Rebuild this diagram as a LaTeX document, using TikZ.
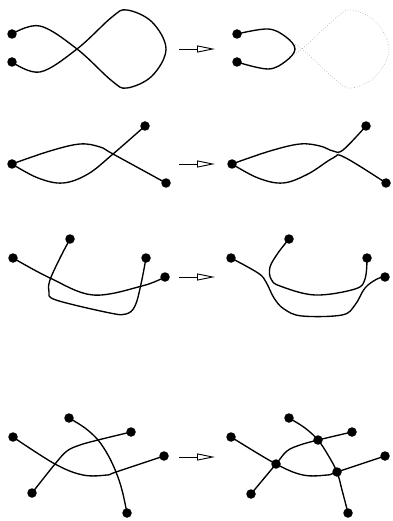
\documentclass[tikz,border=0pt]{standalone}
\usetikzlibrary{arrows.meta}

\tikzset{
	blob/.style={circle, fill, inner sep=0pt, minimum size=9.5pt},
	wire/.style={line width=1.35pt, line join=round, line cap=round},
	ghost/.style={gray!70, line width=0.6pt, dash pattern={on 0.6pt off 2pt}},
	flow/.style={line width=0.9pt, -{Triangle[open, length=18pt, width=7pt]}}
}

\begin{document}
\begin{tikzpicture}[x=1pt, y=-1pt]
			\useasboundingbox (0,0) rectangle (392,521);
			% figure eight
			\node[blob](A1) at (12,34){};
			\node[blob](A2) at (12,62){};
			\draw[wire] plot[smooth, tension=0.6] coordinates {(A1.center) (40,26) (77,49) (112,81) (127,88) (152,76) (166,49) (152,22) (127,10) (112,17) (77,49) (40,72) (A2.center)};
			\coordinate (s1) at (179,49);
			\coordinate (e1) at (215,49);
			\draw[flow] (s1) -- (e1);
			\node[blob](B1) at (237,34){};
			\node[blob](B2) at (237,62){};
			\draw[ghost] plot[smooth, tension=0.6] coordinates {(288,41) (302,49) (337,81) (352,88) (376,76) (389,49) (376,22) (352,10) (337,17) (302,49) (288,57)};
			\draw[wire] plot[smooth, tension=0.6] coordinates {(B1.center) (268,29) (286,37) (295,49) (286,61) (268,69) (B2.center)};
			% one crossing
			\node[blob](C1) at (12,164){};
			\node[blob](C2) at (145,126){};
			\node[blob](C3) at (166,183){};
			\draw[wire] plot[smooth, tension=0.6] coordinates {(C1.center) (50,151) (80,144) (100,147) (113,154) (C3.center)};
			\draw[wire] plot[smooth, tension=0.6] coordinates {(C1.center) (38,178) (63,183) (88,174) (113,154) (C2.center)};
			\coordinate (s2) at (179,164);
			\coordinate (e2) at (215,164);
			\draw[flow] (s2) -- (e2);
			\node[blob](D1) at (232,164){};
			\node[blob](D2) at (366,126){};
			\node[blob](D3) at (386,183){};
			\draw[ghost] (332,150) -- (344,158) (332,158) -- (344,150);
			\draw[wire] plot[smooth, tension=0.6] coordinates {(D1.center) (270,151) (300,144) (320,146) (333,151) (343,150) (D2.center)};
			\draw[wire] plot[smooth, tension=0.6] coordinates {(D1.center) (258,178) (283,183) (308,174) (333,158) (344,157) (D3.center)};
			% two crossings
			\node[blob](E1) at (13,258){};
			\node[blob](E2) at (70,239){};
			\node[blob](E3) at (146,258){};
			\node[blob](E4) at (165,277){};
			\draw[wire] plot[smooth, tension=0.6] coordinates {(E1.center) (50,278) (93,295) (142,286) (E4.center)};
			\draw[wire] plot[smooth, tension=0.6] coordinates {(E2.center) (60,258) (50,280) (49,292) (56,300) (110,313) (126,314) (135,306) (141,284) (E3.center)};
			\coordinate (s3) at (179,277);
			\coordinate (e3) at (215,277);
			\draw[flow] (s3) -- (e3);
			\node[blob](F1) at (231,258){};
			\node[blob](F2) at (289,239){};
			\node[blob](F3) at (367,258){};
			\node[blob](F4) at (385,277){};
			\draw[wire] plot[smooth, tension=0.6] coordinates {(F2.center) (278,253) (270,267) (271,279) (280,286) (315,295) (355,289) (365,279) (F3.center)};
			\draw[wire] plot[smooth, tension=0.6] coordinates {(F1.center) (258,273) (266,282) (274,298) (284,309) (302,316) (342,315) (355,305) (365,288) (377,279) (F4.center)};
			% three crossings
			\node[blob](G1) at (13,437){};
			\node[blob](G2) at (69,418){};
			\node[blob](G3) at (131,432){};
			\node[blob](G4) at (164,456){};
			\node[blob](G5) at (32,493){};
			\node[blob](G6) at (127,513){};
			\coordinate (x1) at (55,464);
			\coordinate (x2) at (98,440);
			\coordinate (x3) at (116,472);
			\draw[wire] plot[smooth, tension=0.6] coordinates {(G1.center) (x1) (83,475) (107,475) (x3) (G4.center)};
			\draw[wire] plot[smooth, tension=0.6] coordinates {(G5.center) (x1) (67,451) (80,445) (x2) (G3.center)};
			\draw[wire] plot[smooth, tension=0.6] coordinates {(G2.center) (85,428) (x2) (108,455) (x3) (122,490) (G6.center)};
			\coordinate (s4) at (179,457);
			\coordinate (e4) at (215,457);
			\draw[flow] (s4) -- (e4);
			\node[blob](H1) at (231,437){};
			\node[blob](H2) at (289,418){};
			\node[blob](H3) at (352,432){};
			\node[blob](H4) at (385,456){};
			\node[blob](H5) at (251,494){};
			\node[blob](H6) at (348,513){};
			\node[blob](J1) at (276,464){};
			\node[blob](J2) at (318,440){};
			\node[blob](J3) at (337,472){};
			\draw[wire] plot[smooth, tension=0.6] coordinates {(H1.center) (J1.center) (303,475) (327,475) (J3.center) (H4.center)};
			\draw[wire] plot[smooth, tension=0.6] coordinates {(H5.center) (J1.center) (287,451) (300,445) (J2.center) (H3.center)};
			\draw[wire] plot[smooth, tension=0.6] coordinates {(H2.center) (305,428) (J2.center) (328,455) (J3.center) (342,490) (H6.center)};
		\end{tikzpicture}
\end{document}
